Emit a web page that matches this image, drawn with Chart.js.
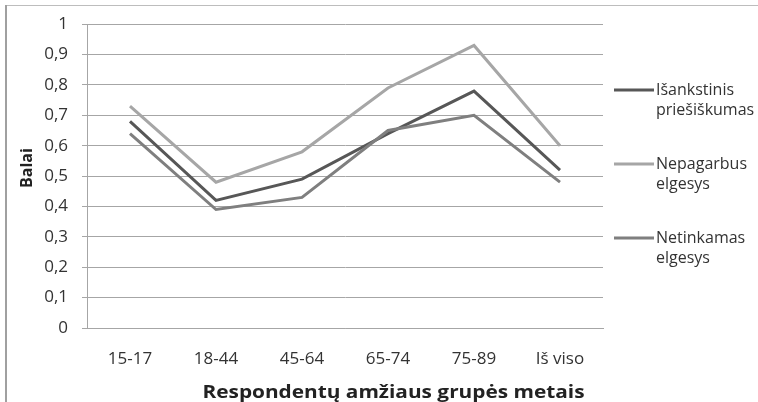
<!DOCTYPE html>
<html>
<head>
<meta charset="utf-8">
<script src="https://cdn.jsdelivr.net/npm/chart.js@4.4.1/dist/chart.umd.min.js"></script>
<style>
html,body{margin:0;padding:0;background:#fff;}
#wrap{position:relative;width:758px;height:402px;}
</style>
</head>
<body>
<div id="wrap"><canvas id="c" width="758" height="402"></canvas></div>
<script>
const categories = ["15-17", "18-44", "45-64", "65-74", "75-89", "Iš viso"];
const isankstinis = [0.68, 0.42, 0.49, 0.64, 0.78, 0.52];
const nepagarbus = [0.73, 0.48, 0.58, 0.79, 0.93, 0.60];
const netinkamas = [0.64, 0.39, 0.43, 0.65, 0.70, 0.48];
const seriesLabels = [["Išankstinis", "priešiškumas"], ["Nepagarbus", "elgesys"], ["Netinkamas", "elgesys"]];
const yAxisTitle = "Balai";
const xAxisTitle = "Respondentų amžiaus grupės metais";

const FONT = "'Open Sans', sans-serif";
const colors = ["#575757", "#a6a6a6", "#7f7f7f"];

const frame = {
  id: 'frame',
  beforeDraw(chart) {
    const ctx = chart.ctx;
    ctx.save();
    ctx.strokeStyle = '#bdbdbd';
    ctx.lineWidth = 1;
    ctx.beginPath();
    ctx.moveTo(6, 5.5); ctx.lineTo(758, 5.5);
    ctx.stroke();
    ctx.strokeStyle = '#a0a0a0';
    ctx.lineWidth = 2;
    ctx.beginPath();
    ctx.moveTo(6, 5); ctx.lineTo(6, 402);
    ctx.stroke();
    ctx.restore();
  }
};

const titles = {
  id: 'titles',
  afterDraw(chart) {
    const ctx = chart.ctx;
    ctx.save();
    ctx.fillStyle = '#222';
    ctx.font = "bold 17px " + FONT;
    ctx.textAlign = 'center';
    ctx.textBaseline = 'alphabetic';
    const w = ctx.measureText(xAxisTitle).width;
    const sx = 382 / w;
    ctx.translate(393.5, 398);
    ctx.scale(sx, 1);
    ctx.fillText(xAxisTitle, 0, 0);
    ctx.restore();

    ctx.save();
    ctx.fillStyle = '#222';
    ctx.font = "bold 16px " + FONT;
    ctx.textAlign = 'center';
    ctx.textBaseline = 'middle';
    ctx.translate(27.5, 168);
    ctx.rotate(-Math.PI / 2);
    ctx.fillText(yAxisTitle, 0, 0);
    ctx.restore();
  }
};

const sideLegend = {
  id: 'sideLegend',
  afterDraw(chart) {
    const ctx = chart.ctx;
    const ys = [90, 164, 238];
    ctx.save();
    chart.data.datasets.forEach((ds, i) => {
      const y = ys[i];
      ctx.strokeStyle = ds.borderColor;
      ctx.lineWidth = 3;
      ctx.beginPath();
      ctx.moveTo(614, y); ctx.lineTo(654, y);
      ctx.stroke();
      ctx.fillStyle = '#333';
      ctx.font = "16px " + FONT;
      ctx.textBaseline = 'middle';
      ctx.textAlign = 'left';
      seriesLabels[i].forEach((t, j) => ctx.fillText(t, 656, y + j * 20));
    });
    ctx.restore();
  }
};

const datasets = [
  {label: seriesLabels[0].join(' '), data: isankstinis, borderColor: colors[0], order: 3},
  {label: seriesLabels[1].join(' '), data: nepagarbus, borderColor: colors[1], order: 2},
  {label: seriesLabels[2].join(' '), data: netinkamas, borderColor: colors[2], order: 1}
].map(d => Object.assign(d, {borderWidth: 3, pointRadius: 0, tension: 0, fill: false, backgroundColor: d.borderColor}));

new Chart(document.getElementById('c'), {
  type: 'line',
  data: {labels: categories, datasets: datasets},
  options: {
    responsive: false,
    animation: false,
    layout: {padding: {left: 8, top: 24, right: 155, bottom: 0}},
    plugins: {legend: {display: false}, tooltip: {enabled: false}},
    scales: {
      x: {
        offset: true,
        grid: {display: false, drawTicks: false},
        border: {display: true, color: '#a6a6a6', width: 1},
        ticks: {color: '#333', font: {family: FONT, size: 17}, padding: 21, maxRotation: 0},
        title: {display: false},
        afterFit(s) { s.height = 74; }
      },
      y: {
        min: 0, max: 1,
        ticks: {stepSize: 0.1, color: '#333', font: {family: FONT, size: 17}, padding: 14,
          callback: v => Number(v.toFixed(1)).toString().replace('.', ',')},
        grid: {color: '#a6a6a6', tickLength: 5, drawTicks: true, lineWidth: 1},
        border: {display: true, color: '#a6a6a6', width: 1},
        title: {display: false},
        afterFit(s) { s.width = 79; }
      }
    }
  },
  plugins: [frame, sideLegend, titles]
});
</script>
</body>
</html>
